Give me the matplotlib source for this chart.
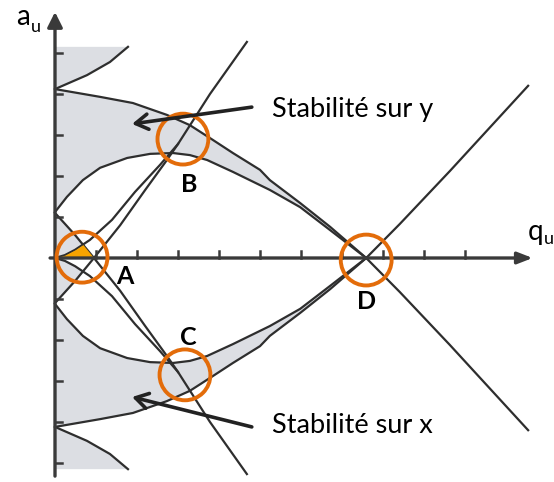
"""Diagramme de stabilite (a_u, q_u) : zones de stabilite sur x et sur y."""
import numpy as np
import matplotlib.pyplot as plt
from matplotlib.patches import Circle

# courbes du demi-plan superieur (q_u, a_u) ; le demi-plan inferieur est le miroir a -> -a
u1_q = [0.0, 0.78, 1.34, 1.78]
u1_a = [4.12, 4.46, 4.78, 5.15]

u2_q = [0.0, 1.10, 1.90, 2.73, 3.29, 3.85, 4.34, 5.00, 5.24, 5.98, 6.71, 7.59, 8.41, 9.63, 11.54]
u2_a = [4.12, 3.93, 3.78, 3.49, 3.24, 2.88, 2.56, 2.15, 1.90, 1.34, 0.76, 0.0, -0.83, -2.12, -4.20]

l2_q = [0.0, 0.29, 0.68, 1.10, 1.76, 2.32, 2.88, 3.29, 3.71, 4.34, 5.24, 5.98, 6.71, 7.59]
l2_a = [1.12, 1.49, 1.90, 2.20, 2.44, 2.54, 2.56, 2.51, 2.39, 2.10, 1.66, 1.24, 0.68, 0.0]

line1_q = [0.0, 0.24, 0.49, 0.85, 1.39, 1.95, 2.56, 3.00, 3.78, 4.68]
line1_a = [0.0, 0.07, 0.20, 0.44, 0.93, 1.61, 2.27, 2.78, 4.00, 5.27]

s1_q = [0.0, 0.49, 0.95, 1.59, 2.20, 2.73, 3.00]
s1_a = [-1.10, -0.56, 0.0, 0.80, 1.66, 2.39, 2.78]

# points remarquables
pt_names = ['A', 'B', 'C', 'D']
pt_q = [0.66, 3.12, 3.17, 7.59]
pt_a = [0.02, 2.90, -2.85, -0.05]
lab_q = [1.71, 3.27, 3.24, 7.59]
lab_a = [-0.44, 1.80, -1.93, -1.07]

q_ticks = list(range(1, 11))
a_ticks = [-5, -4, -3, -2, -1, 1, 2, 3, 4, 5]

SHADE = '#dcdee3'
LINE = '#2e2e2e'
AXIS = '#3a3a3a'
ORANGE = '#e36c0a'
FONT = ['Lato', 'DejaVu Sans']


def main():
    fig = plt.figure(figsize=(5.54, 4.82), dpi=100)
    ax = fig.add_axes([0, 0, 1, 1])
    ax.set_xlim(-55 / 41, 499 / 41)
    ax.set_ylim(-224 / 41, 258 / 41)
    ax.axis('off')

    uq, ua = np.array(u2_q), np.array(u2_a)
    lq, la = np.array(l2_q), np.array(l2_a)
    d_q = lq[-1]
    keep = uq <= d_q + 1e-9

    qq = np.linspace(0, s1_q[2], 200)
    l1 = np.interp(qq, line1_q, line1_a)
    s1m = np.interp(qq, s1_q, -np.array(s1_a))

    for s in (1, -1):
        # zone haute le long de l'axe
        ax.fill(np.r_[0, u1_q[::-1]], s * np.r_[u1_a[-1], u1_a[::-1]],
                color=SHADE, lw=0, zorder=1)
        # zone entre les deux courbes jusqu'a D
        ax.fill(np.r_[uq[keep], lq[::-1]], s * np.r_[ua[keep], la[::-1]],
                color=SHADE, lw=0, zorder=1)
        # petite bande pres de l'origine
        ax.fill_between(qq, s * l1, s * s1m, where=s1m >= l1, interpolate=True,
                        color=SHADE, lw=0, zorder=1)

        ax.plot(u1_q, s * np.array(u1_a), color=LINE, lw=1.6, zorder=2)
        ax.plot(uq, s * ua, color=LINE, lw=1.6, zorder=2)
        ax.plot(lq, s * la, color=LINE, lw=1.6, zorder=2)
        ax.plot(line1_q, s * np.array(line1_a), color=LINE, lw=1.6, zorder=2)
        ax.plot(s1_q, s * np.array(s1_a), color=LINE, lw=1.6, zorder=2)

    # zone stable sur x et y
    ax.fill_between(qq, 0, np.clip(np.minimum(l1, s1m), 0, None),
                    color='#f7a400', lw=0, zorder=3)

    # axes
    arrow = dict(arrowstyle='-|>,head_length=0.9,head_width=0.45', lw=2.4,
                 color=AXIS, shrinkA=0, shrinkB=0)
    ax.annotate('', xy=(0, 6.0), xytext=(0, -5.32), arrowprops=arrow, zorder=4)
    ax.annotate('', xy=(11.65, 0), xytext=(-0.12, 0),
                arrowprops=dict(arrow, arrowstyle='-|>,head_length=0.9,head_width=0.35'),
                zorder=4)
    for t in q_ticks:
        ax.plot([t, t], [0, 0.18], color=AXIS, lw=1.8, zorder=4)
    for t in a_ticks:
        ax.plot([0, 0.18], [t, t], color=AXIS, lw=1.8, zorder=4)

    ax.text(-0.62, 5.68, 'a', ha='right', va='baseline', fontsize=20, family=FONT)
    ax.text(-0.60, 5.52, 'u', ha='left', va='baseline', fontsize=13, family=FONT)
    ax.text(11.52, 0.44, 'q', ha='left', va='baseline', fontsize=20, family=FONT)
    ax.text(11.93, 0.34, 'u', ha='left', va='baseline', fontsize=13, family=FONT)

    for name, q, a, tq, ta in zip(pt_names, pt_q, pt_a, lab_q, lab_a):
        ax.add_patch(Circle((q, a), 0.62, fill=False, ec=ORANGE, lw=2.8, zorder=5))
        ax.text(tq, ta, name, ha='center', va='center', fontsize=18,
                fontweight='bold', family=FONT, zorder=6)

    # legendes avec fleches
    pointer = dict(arrowstyle='->,head_length=0.9,head_width=0.55', lw=2.6,
                   color='#222222', shrinkA=0, shrinkB=0)
    ax.annotate('', xy=(1.88, 3.27), xytext=(4.80, 3.68), arrowprops=pointer, zorder=6)
    ax.annotate('', xy=(1.88, -3.39), xytext=(4.80, -4.12), arrowprops=pointer, zorder=6)
    ax.text(5.29, 3.44, 'Stabilité sur y', ha='left', va='baseline', fontsize=19.5,
            family=FONT)
    ax.text(5.29, -4.27, 'Stabilité sur x', ha='left', va='baseline', fontsize=19.5,
            family=FONT)

    fig.savefig('out.png', dpi=100)


if __name__ == '__main__':
    main()
